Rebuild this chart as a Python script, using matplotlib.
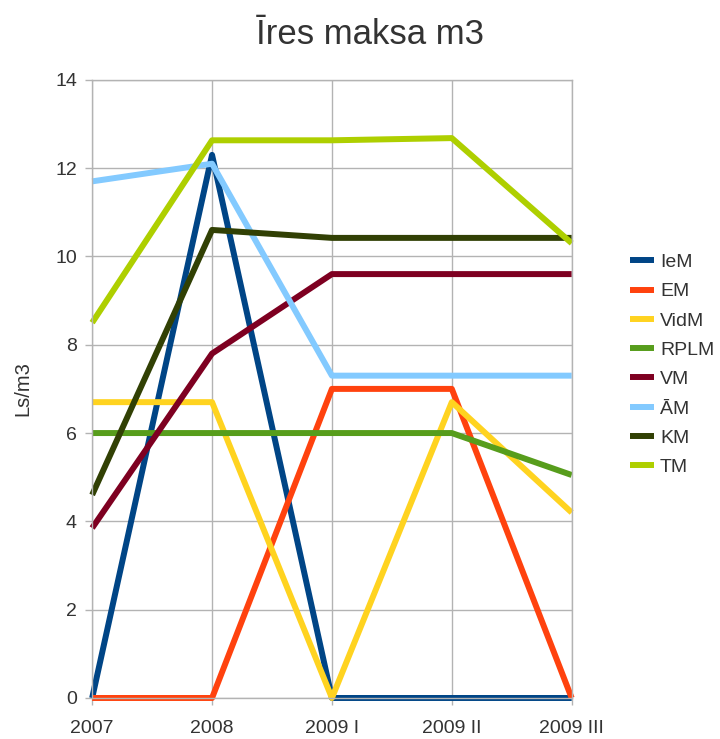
import matplotlib
matplotlib.use('Agg')
import matplotlib.pyplot as plt

plt.rcParams['font.family'] = ['Liberation Sans', 'DejaVu Sans']

# ============= Data
categories = ['2007', '2008', '2009 I', '2009 II', '2009 III']
ieM = [0, 12.3, 0, 0, 0]
eM = [0, 0, 7.0, 7.0, 0]
vidM = [6.7, 6.7, 0, 6.7, 4.2]
rplM = [6.0, 6.0, 6.0, 6.0, 5.05]
vM = [3.85, 7.8, 9.6, 9.6, 9.6]
aM = [11.7, 12.1, 7.3, 7.3, 7.3]
kM = [4.6, 10.6, 10.42, 10.42, 10.42]
tM = [8.5, 12.63, 12.63, 12.68, 10.3]

seriesNames = ['IeM', 'EM', 'VidM', 'RPLM', 'VM', 'ĀM', 'KM', 'TM']
seriesData = [ieM, eM, vidM, rplM, vM, aM, kM, tM]
seriesColors = ['#004586', '#ff420e', '#ffd320', '#579d1c',
                '#7e0021', '#83caff', '#314004', '#aecf00']

# ============= Figure
fig = plt.figure(figsize=(7.2, 7.39), dpi=100)
ax = fig.add_axes([0.128, 0.0555, 0.666, 0.8365])

xs = list(range(len(categories)))
for name, vals, col in zip(seriesNames, seriesData, seriesColors):
    ax.plot(xs, vals, color=col, lw=4.3, label=name,
            solid_joinstyle='round', solid_capstyle='butt', clip_on=False)

ax.set_xlim(0, len(categories) - 1)
ax.set_ylim(0, 14)
ax.set_yticks(range(0, 15, 2))
ax.set_xticks(xs)
ax.set_xticklabels(categories)

gridCol = '#b3b3b3'
ax.grid(True, color=gridCol, lw=1)
ax.set_axisbelow(True)
for s in ax.spines.values():
    s.set_color(gridCol)
    s.set_linewidth(1)
ax.tick_params(axis='both', colors=gridCol, length=5, width=1,
               labelcolor='#333333', labelsize=14)
ax.tick_params(axis='x', pad=11)
ax.tick_params(axis='y', pad=6)

ax.set_ylabel('Ls/m3', fontsize=14.5, color='#333333', labelpad=16)
fig.text(0.514, 0.953, 'Īres maksa m3', fontsize=25, color='#333333',
         ha='center', va='center')

leg = ax.legend(loc='center left', bbox_to_anchor=(1.085, 0.539), frameon=False,
                fontsize=14, handlelength=1.24, handletextpad=0.3,
                labelspacing=0.6, labelcolor='#333333')
for h in leg.get_lines():
    h.set_linewidth(4.3)

fig.savefig('out.png', dpi=100)
